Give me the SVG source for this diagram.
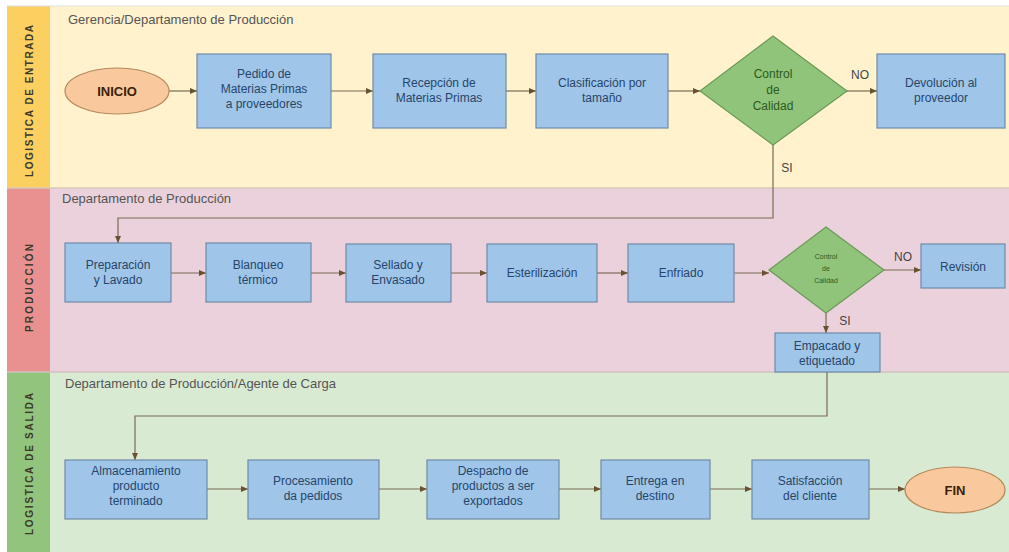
<svg xmlns="http://www.w3.org/2000/svg" width="1009" height="552" viewBox="0 0 1009 552">
<style>
.box{fill:#9fc5e8;stroke:#6f8aa6;stroke-width:1.2}
.dia{fill:#8fc47a;stroke:#6a9a55;stroke-width:1.2}
.ell{fill:#f9c89c;stroke:#b48a5c;stroke-width:1.2}
.t{font-family:"Liberation Sans",Arial,sans-serif;font-size:12px;fill:#26456a;text-anchor:middle}
.dt{font-family:"Liberation Sans",Arial,sans-serif;font-size:12px;fill:#2d5a1e;text-anchor:middle}
.et{font-family:"Liberation Sans",Arial,sans-serif;font-size:13px;font-weight:bold;fill:#3a2208;text-anchor:middle}
.lt{font-family:"Liberation Sans",Arial,sans-serif;font-size:13px;fill:#555;}
.lab{font-family:"Liberation Sans",Arial,sans-serif;font-size:10px;font-weight:bold;fill:#3a3a2a;text-anchor:middle}
.yn{font-family:"Liberation Sans",Arial,sans-serif;font-size:12px;fill:#444;text-anchor:middle}
.c{fill:none;stroke:#7a6a55;stroke-width:1.2}
</style>
<defs>
<marker id="ah" markerWidth="8" markerHeight="8" refX="7" refY="4" orient="auto" markerUnits="userSpaceOnUse">
<path d="M0,1 L7,4 L0,7 Z" fill="#6a5030"/>
</marker>
</defs>
<rect x="0" y="0" width="1009" height="552" fill="#ffffff"/>
<g id="lanes">
<rect x="50" y="6" width="959" height="182" fill="#fff2cc"/>
<rect x="7" y="6" width="43" height="182" fill="#fbcf60"/>
<rect x="50" y="188" width="959" height="184" fill="#ead1dc"/>
<rect x="7" y="188" width="43" height="184" fill="#e99090"/>
<rect x="50" y="372" width="959" height="180" fill="#d9ead3"/>
<rect x="7" y="372" width="43" height="180" fill="#93c47d"/>
<line x1="7" y1="188" x2="1009" y2="188" stroke="#d8c8b8" stroke-width="1.5"/>
<line x1="7" y1="372" x2="1009" y2="372" stroke="#d0c0c0" stroke-width="1.5"/>
<line x1="7" y1="6" x2="1009" y2="6" stroke="#e0e0e0" stroke-width="1"/>
<text class="lab" transform="translate(33,101) rotate(-90)" textLength="152" lengthAdjust="spacing">LOGISTICA DE ENTRADA</text>
<text class="lab" transform="translate(33,288) rotate(-90)" textLength="88" lengthAdjust="spacing">PRODUCCIÓN</text>
<text class="lab" transform="translate(33,464) rotate(-90)" textLength="142" lengthAdjust="spacing">LOGISTICA DE SALIDA</text>
<text class="lt" x="68" y="24">Gerencia/Departamento de Producción</text>
<text class="lt" x="62" y="203">Departamento de Producción</text>
<text class="lt" x="65" y="388">Departamento de Producción/Agente de Carga</text>
</g>
<g id="connectors">
<line class="c" x1="168" y1="91" x2="197" y2="91" marker-end="url(#ah)"/>
<line class="c" x1="331" y1="91" x2="373" y2="91" marker-end="url(#ah)"/>
<line class="c" x1="506" y1="91" x2="536" y2="91" marker-end="url(#ah)"/>
<line class="c" x1="668" y1="91" x2="700" y2="91" marker-end="url(#ah)"/>
<line class="c" x1="847" y1="91" x2="877" y2="91" marker-end="url(#ah)"/>
<polyline class="c" points="773,145 773,218 118,218 118,243" marker-end="url(#ah)"/>
<line class="c" x1="171" y1="273" x2="206" y2="273" marker-end="url(#ah)"/>
<line class="c" x1="311" y1="273" x2="346" y2="273" marker-end="url(#ah)"/>
<line class="c" x1="451" y1="273" x2="487" y2="273" marker-end="url(#ah)"/>
<line class="c" x1="597" y1="273" x2="628" y2="273" marker-end="url(#ah)"/>
<line class="c" x1="734" y1="273" x2="769" y2="273" marker-end="url(#ah)"/>
<line class="c" x1="884" y1="270" x2="921" y2="270" marker-end="url(#ah)"/>
<line class="c" x1="826" y1="313" x2="826" y2="333" marker-end="url(#ah)"/>
<polyline class="c" points="827,372 827,416 135,416 135,460" marker-end="url(#ah)"/>
<line class="c" x1="207" y1="489" x2="248" y2="489" marker-end="url(#ah)"/>
<line class="c" x1="379" y1="489" x2="427" y2="489" marker-end="url(#ah)"/>
<line class="c" x1="559" y1="489" x2="601" y2="489" marker-end="url(#ah)"/>
<line class="c" x1="710" y1="489" x2="752" y2="489" marker-end="url(#ah)"/>
<line class="c" x1="869" y1="489" x2="905" y2="489" marker-end="url(#ah)"/>
<text class="yn" x="860" y="79">NO</text>
<text class="yn" x="787" y="172">SI</text>
<text class="yn" x="903" y="261">NO</text>
<text class="yn" x="845" y="325">SI</text>
</g>
<g id="inicio"><ellipse class="ell" cx="117" cy="91" rx="52" ry="23"/><text class="et" x="117" y="96">INICIO</text></g>
<g id="pedido"><rect class="box" x="197" y="54" width="134" height="74"/><text class="t" x="264" y="78">Pedido de</text><text class="t" x="264" y="93">Materias Primas</text><text class="t" x="264" y="108">a proveedores</text></g>
<g id="recepcion"><rect class="box" x="373" y="54" width="133" height="74"/><text class="t" x="439" y="87">Recepción de</text><text class="t" x="439" y="102">Materias Primas</text></g>
<g id="clasificacion"><rect class="box" x="536" y="54" width="132" height="74"/><text class="t" x="602" y="87">Clasificación por</text><text class="t" x="602" y="102">tamaño</text></g>
<g id="control1"><polygon class="dia" points="773,36 847,91 773,145 700,91"/><text class="dt" x="773" y="78">Control</text><text class="dt" x="773" y="94">de</text><text class="dt" x="773" y="110">Calidad</text></g>
<g id="devolucion"><rect class="box" x="877" y="54" width="128" height="74"/><text class="t" x="941" y="87">Devolución al</text><text class="t" x="941" y="102">proveedor</text></g>
<g id="preparacion"><rect class="box" x="65" y="243" width="106" height="59"/><text class="t" x="118" y="269">Preparación</text><text class="t" x="118" y="284">y Lavado</text></g>
<g id="blanqueo"><rect class="box" x="206" y="243" width="105" height="59"/><text class="t" x="258" y="269">Blanqueo</text><text class="t" x="258" y="284">térmico</text></g>
<g id="sellado"><rect class="box" x="346" y="244" width="105" height="58"/><text class="t" x="398" y="269">Sellado y</text><text class="t" x="398" y="284">Envasado</text></g>
<g id="esterilizacion"><rect class="box" x="487" y="244" width="110" height="58"/><text class="t" x="542" y="277">Esterilización</text></g>
<g id="enfriado"><rect class="box" x="628" y="244" width="106" height="58"/><text class="t" x="681" y="277">Enfriado</text></g>
<g id="control2"><polygon class="dia" points="826,227 884,270 826,313 769,270"/><text class="dt" x="826" y="259" style="font-size:7px">Control</text><text class="dt" x="826" y="271" style="font-size:7px">de</text><text class="dt" x="826" y="283" style="font-size:7px">Calidad</text></g>
<g id="revision"><rect class="box" x="921" y="244" width="84" height="44"/><text class="t" x="963" y="271">Revisión</text></g>
<g id="empacado"><rect class="box" x="775" y="333" width="105" height="39"/><text class="t" x="827" y="350">Empacado y</text><text class="t" x="827" y="365">etiquetado</text></g>
<g id="almacenamiento"><rect class="box" x="65" y="460" width="142" height="59"/><text class="t" x="136" y="475">Almacenamiento</text><text class="t" x="136" y="490">producto</text><text class="t" x="136" y="505">terminado</text></g>
<g id="procesamiento"><rect class="box" x="248" y="460" width="131" height="59"/><text class="t" x="313" y="485">Procesamiento</text><text class="t" x="313" y="500">da pedidos</text></g>
<g id="despacho"><rect class="box" x="427" y="460" width="132" height="59"/><text class="t" x="493" y="475">Despacho de</text><text class="t" x="493" y="490">productos a ser</text><text class="t" x="493" y="505">exportados</text></g>
<g id="entrega"><rect class="box" x="601" y="460" width="109" height="59"/><text class="t" x="655" y="485">Entrega en</text><text class="t" x="655" y="500">destino</text></g>
<g id="satisfaccion"><rect class="box" x="752" y="460" width="117" height="59"/><text class="t" x="810" y="485">Satisfacción</text><text class="t" x="810" y="500">del cliente</text></g>
<g id="fin"><ellipse class="ell" cx="955" cy="490" rx="50" ry="23"/><text class="et" x="955" y="495">FIN</text></g>
</svg>
